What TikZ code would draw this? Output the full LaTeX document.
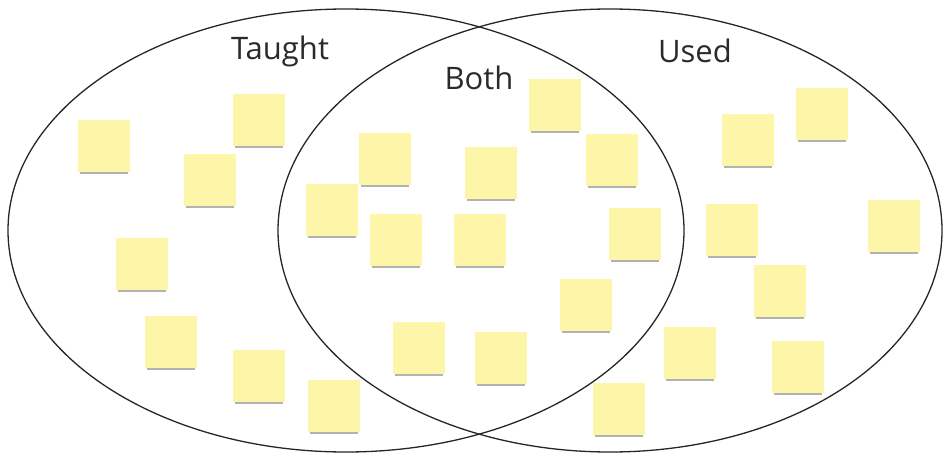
\documentclass[tikz,border=0pt]{standalone}
\usepackage{fontspec}
\setmainfont{Open Sans}
\usetikzlibrary{shadows}
\definecolor{stickyyellow}{HTML}{FDF5A8}
\definecolor{labelgrey}{HTML}{2A2A2A}
\tikzset{
  sticky/.style={rectangle, minimum size=52pt, inner sep=0pt, fill=stickyyellow,
    drop shadow={shadow xshift=0pt, shadow yshift=-3.5pt, shadow scale=.94, opacity=.5, fill=black!60}},
  setlabel/.style={font=\fontsize{31}{31}\selectfont, text=labelgrey, inner sep=0pt}
}
\begin{document}
\begin{tikzpicture}[x=1pt, y=-1pt]
	\useasboundingbox (0,0) rectangle (944,454);
	% sticky notes, top left corners
	\foreach \x/\y [count=\i] in {78/120, 233/94, 184/154, 116/238, 145/316, 233/350, 308/380,
		359/133, 306/184, 370/214, 465/147, 454/214, 529/79, 586/134, 609/208,
		393/322, 475/332, 560/279, 593/383,
		664/327, 722/114, 796/88, 706/204, 868/200, 754/265, 772/341}
		\node[sticky] (n\i) at (\x+26,\y+26) {};
	% the two sets
	\draw[line width=1.3pt, black!85] (346,230.5) ellipse [x radius=338, y radius=221.5];
	\draw[line width=1.3pt, black!85] (610,230.5) ellipse [x radius=332, y radius=221.5];
	\node[setlabel] (taught) at (280,51) {Taught};
	\node[setlabel] (both)   at (479,78) {Both};
	\node[setlabel] (used)   at (695,51) {Used};
\end{tikzpicture}
\end{document}
